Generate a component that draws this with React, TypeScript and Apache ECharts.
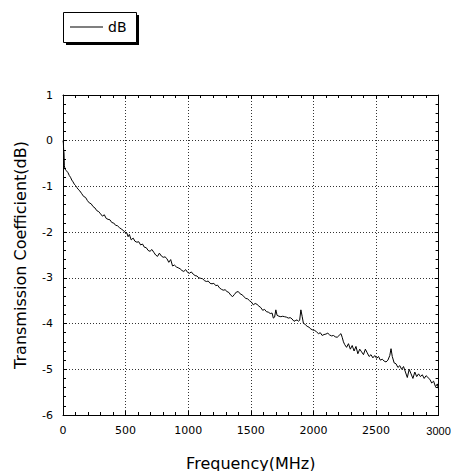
import React, { useEffect, useRef } from "react";
import * as echarts from "echarts";

const freqMHz: number[] = [
  0, 3, 5, 8, 11, 16, 25, 40, 50, 60, 70, 80, 90, 100, 110, 120, 135, 150,
  165, 180, 195, 210, 225, 240, 255, 270, 285, 300, 315, 330, 345, 360, 375, 390, 405, 420, 435, 450,
  465, 480, 495, 510, 520, 530, 545, 560, 575, 590, 605, 620, 635, 650, 665, 680, 695, 710, 725, 740,
  755, 770, 785, 800, 815, 830, 845, 860, 875, 890, 905, 920, 935, 950, 965, 980, 995, 1010, 1025, 1040,
  1055, 1070, 1085, 1100, 1115, 1130, 1145, 1160, 1175, 1190, 1205, 1220, 1235, 1250, 1265, 1280, 1295, 1310, 1325, 1340,
  1355, 1370, 1385, 1400, 1415, 1430, 1445, 1460, 1475, 1490, 1505, 1520, 1535, 1550, 1565, 1580, 1595, 1610, 1625, 1640,
  1655, 1670, 1680, 1690, 1700, 1710, 1725, 1740, 1755, 1770, 1785, 1800, 1815, 1830, 1845, 1860, 1870, 1880, 1890, 1900,
  1910, 1920, 1935, 1950, 1965, 1980, 1995, 2010, 2025, 2040, 2055, 2070, 2085, 2100, 2115, 2130, 2145, 2160, 2175, 2190,
  2205, 2220, 2230, 2240, 2250, 2265, 2280, 2295, 2310, 2325, 2340, 2355, 2370, 2385, 2400, 2415, 2430, 2445, 2460, 2475,
  2490, 2505, 2520, 2535, 2550, 2565, 2580, 2595, 2610, 2620, 2630, 2645, 2660, 2675, 2690, 2705, 2720, 2735, 2750, 2765,
  2780, 2795, 2810, 2825, 2840, 2855, 2870, 2885, 2900, 2915, 2930, 2945, 2960, 2975, 2990, 3000,
];

const dB: number[] = [
  0, -0.05, -0.2, -0.26, -0.55, -0.62, -0.65, -0.7, -0.76, -0.8, -0.86, -0.9, -0.95, -0.98, -1.02, -1.06, -1.1, -1.16,
  -1.22, -1.24, -1.31, -1.36, -1.38, -1.44, -1.47, -1.53, -1.55, -1.6, -1.65, -1.62, -1.7, -1.72, -1.73, -1.79, -1.8, -1.85, -1.86, -1.9,
  -1.93, -1.96, -2.0, -2.02, -2.1, -2.05, -2.17, -2.13, -2.2, -2.22, -2.21, -2.28, -2.26, -2.33, -2.34, -2.4, -2.42, -2.38, -2.44, -2.5,
  -2.53, -2.46, -2.52, -2.55, -2.54, -2.58, -2.66, -2.6, -2.74, -2.72, -2.76, -2.78, -2.8, -2.84, -2.86, -2.82, -2.88, -2.9, -2.87, -2.92,
  -2.95, -2.96, -3.0, -3.01, -3.02, -3.06, -3.08, -3.07, -3.12, -3.13, -3.12, -3.17, -3.16, -3.22, -3.25, -3.27, -3.26, -3.3, -3.32, -3.38,
  -3.41, -3.36, -3.31, -3.3, -3.35, -3.37, -3.41, -3.45, -3.46, -3.5, -3.53, -3.59, -3.56, -3.58, -3.62, -3.65, -3.71, -3.69, -3.74, -3.75,
  -3.78, -3.77, -3.88, -3.86, -3.7, -3.82, -3.84, -3.85, -3.84, -3.85, -3.86, -3.88, -3.87, -3.9, -3.95, -3.93, -3.92, -3.95, -3.93, -3.7,
  -3.84, -3.99, -4.02, -4.06, -4.08, -4.12, -4.14, -4.15, -4.18, -4.22, -4.2, -4.26, -4.24, -4.23, -4.21, -4.25, -4.27, -4.26, -4.29, -4.3,
  -4.26, -4.22, -4.3, -4.4, -4.46, -4.52, -4.44, -4.56, -4.48, -4.6, -4.5, -4.66, -4.56, -4.62, -4.68, -4.56, -4.64, -4.72, -4.68, -4.75,
  -4.7, -4.76, -4.72, -4.8, -4.78, -4.82, -4.84, -4.8, -4.7, -4.55, -4.72, -4.86, -4.88, -4.96, -4.92, -5.0, -4.94, -5.06, -5.18, -5.0,
  -5.1, -5.2, -5.06, -5.16, -5.1, -5.16, -5.12, -5.2, -5.14, -5.18, -5.22, -5.3, -5.26, -5.38, -5.32, -5.44,
];

const seriesName = "dB";
const xAxisTitle = "Frequency(MHz)";
const yAxisTitle = "Transmission Coefficient(dB)";
const xMax = 3000;

export default function App() {
  const ref = useRef<HTMLDivElement>(null);
  useEffect(() => {
    if (!ref.current) return;
    const chart = echarts.init(ref.current, null, { renderer: "svg" });
    const data = freqMHz.map((f, i) => [f, dB[i]]);
    const tickStyle = { show: true, inside: true, length: 4, lineStyle: { color: "#000", width: 1 } };
    const minorStyle = { show: true, splitNumber: 5, length: 3, lineStyle: { color: "#000", width: 1 } };
    const labelFont = { fontFamily: "DejaVu Sans", fontSize: 11, color: "#000" };
    const nameFont = { fontFamily: "DejaVu Sans", fontSize: 16, color: "#000" };
    const spine = { show: true, onZero: false, lineStyle: { color: "#000", width: 1 } };
    const grid = { show: true, lineStyle: { color: "#333", type: [1, 2], width: 1 } };
    chart.setOption({
      animation: false,
      backgroundColor: "#fff",
      grid: { left: 63, top: 95, width: 375.6, height: 320, containLabel: false, outerBoundsMode: "none" },
      legend: {
        data: [seriesName],
        left: 70,
        top: 20,
        icon: "rect",
        itemWidth: 33,
        itemHeight: 1,
        itemGap: 0,
        textStyle: { fontFamily: "DejaVu Sans", fontSize: 14, color: "#000", padding: [0, 0, 0, 0] },
        padding: 0,
      },
      graphic: [
        { type: "rect", shape: { x: 66, y: 15, width: 73, height: 30 }, style: { fill: "#000" }, z: -10 },
        { type: "rect", shape: { x: 63.5, y: 12.5, width: 73, height: 30 }, style: { fill: "#fff", stroke: "#000", lineWidth: 1 }, z: -9 },
      ],
      xAxis: [
        {
          type: "value",
          min: 0,
          max: xMax,
          interval: 500,
          name: xAxisTitle,
          nameLocation: "middle",
          nameGap: 40,
          nameTextStyle: nameFont,
          axisLine: spine,
          axisTick: tickStyle,
          minorTick: minorStyle,
          axisLabel: {
            ...labelFont,
            margin: 10,
            formatter: (v: number) => (v === xMax ? `{n|${v}}` : String(v)),
            rich: { n: { fontFamily: "Liberation Sans", fontSize: 11, color: "#000" } },
          },
          splitLine: grid,
        },
        {
          type: "value",
          position: "top",
          min: 0,
          max: xMax,
          interval: 500,
          axisLine: spine,
          axisTick: tickStyle,
          minorTick: minorStyle,
          axisLabel: { show: false },
          splitLine: { show: false },
        },
      ],
      yAxis: [
        {
          type: "value",
          min: -6,
          max: 1,
          interval: 1,
          name: yAxisTitle,
          nameLocation: "middle",
          nameGap: 35,
          nameTextStyle: nameFont,
          axisLine: spine,
          axisTick: tickStyle,
          minorTick: minorStyle,
          axisLabel: { ...labelFont, margin: 10, formatter: (v: number) => String(v) },
          splitLine: grid,
        },
        {
          type: "value",
          position: "right",
          min: -6,
          max: 1,
          interval: 1,
          axisLine: spine,
          axisTick: tickStyle,
          minorTick: minorStyle,
          axisLabel: { show: false },
          splitLine: { show: false },
        },
      ],
      series: [
        {
          name: seriesName,
          type: "line",
          data,
          showSymbol: false,
          symbol: "none",
          lineStyle: { color: "#000", width: 1 },
          itemStyle: { color: "#000" },
          xAxisIndex: 0,
          yAxisIndex: 0,
        },
      ],
    });
    return () => chart.dispose();
  }, []);
  return <div ref={ref} style={{ width: 451, height: 471, position: "absolute", left: 0, top: 0 }} />;
}
